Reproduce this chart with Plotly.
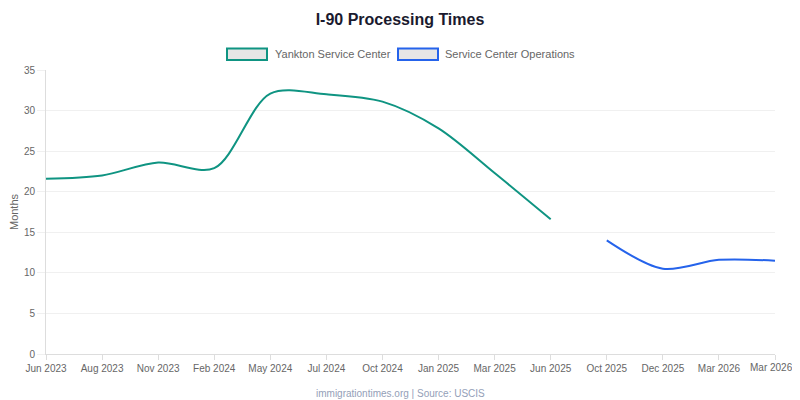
import plotly.graph_objects as go

labels = ["Jun 2023", "Aug 2023", "Nov 2023", "Feb 2024", "May 2024", "Jul 2024",
          "Oct 2024", "Jan 2025", "Mar 2025", "Jun 2025", "Oct 2025", "Dec 2025",
          "Mar 2026", "Mar 2026"]
yankton = [21.6, 22.0, 23.6, 22.9, 32.1, 32.0, 31.1, 27.8, 22.3, 16.6,
           None, None, None, None]
operations = [None, None, None, None, None, None, None, None, None, None,
              14.0, 10.5, 11.6, 11.5]

TEAL = "#0f9482"
BLUE = "#2563eb"

x = list(range(len(labels)))
# the last tick label sits at the very edge of the window: draw it as an
# annotation anchored so that it stays fully visible
tick_text = labels[:-1] + [""]

fig = go.Figure()
fig.add_trace(go.Scatter(x=x, y=yankton, mode="lines", name="Yankton Service Center",
                         line=dict(color=TEAL, width=2, shape="spline", smoothing=0.9),
                         connectgaps=False))
fig.add_trace(go.Scatter(x=x, y=operations, mode="lines", name="Service Center Operations",
                         line=dict(color=BLUE, width=2, shape="spline", smoothing=0.9),
                         connectgaps=False))

font = "Liberation Sans, Arial, sans-serif"

# page body has an 8px margin: figure starts at (8, 8) on screen
fig.update_layout(
    width=792, height=392,
    margin=dict(l=38, r=25, t=62, b=46),
    paper_bgcolor="white", plot_bgcolor="white",
    showlegend=False,
    font=dict(family=font, size=10, color="#666666"),
    title=dict(text="<b>I-90 Processing Times</b>", x=(400 - 8) / 792, xanchor="center",
               y=1 - (19 - 8) / 392, yanchor="middle", automargin=False,
               font=dict(family=font, size=16, color="#1a1a2e")),
    xaxis=dict(range=[0, 13], tickmode="array", tickvals=x, ticktext=tick_text,
               automargin=False, ticklabeloverflow="allow",
               showgrid=False, zeroline=False, showline=True, linecolor="#dddddd",
               ticks="outside", ticklen=5, tickcolor="#dddddd",
               tickfont=dict(size=10, color="#666666")),
    yaxis=dict(range=[0, 35], dtick=5, showgrid=True, gridcolor="#f0f0f0",
               automargin=False,
               zeroline=False, showline=True, linecolor="#dddddd",
               ticks="outside", ticklen=8, tickcolor="#f0f0f0",
               tickfont=dict(size=10, color="#666666"),
               title=dict(text="Months", standoff=10, font=dict(size=11, color="#666666"))),
)

# legend drawn in paper coordinates (plot area spans screen x 46..775, y 70..354)
shapes = []
annotations = []
legend_items = [("Yankton Service Center", TEAL, 227, 267, 273),
                ("Service Center Operations", BLUE, 398, 438, 443)]
for name, col, x0, x1, tx in legend_items:
    shapes.append(dict(type="rect", xref="paper", yref="paper",
                       x0=(x0 - 46) / 729, x1=(x1 - 46) / 729,
                       y0=(354 - 60) / 284, y1=(354 - 48.5) / 284,
                       line=dict(color=col, width=2), fillcolor="#e6e6e6"))
    annotations.append(dict(text=name, xref="paper", yref="paper",
                            x=(tx - 46) / 729, y=(354 - 54) / 284,
                            xanchor="left", yanchor="middle", showarrow=False,
                            font=dict(size=11, color="#666666", family=font)))

annotations.append(dict(text=labels[-1], xref="x", yref="paper",
                        x=x[-1], y=(354 - 367.5) / 284, xanchor="center", xshift=-4,
                        yanchor="middle", showarrow=False,
                        font=dict(size=10, color="#666666", family=font)))

annotations.append(dict(text="immigrationtimes.org | Source: USCIS", xref="paper", yref="paper",
                        x=(400 - 46) / 729, y=(354 - 393) / 284, xanchor="center",
                        yanchor="middle", showarrow=False,
                        font=dict(size=10, color="#94a0b8", family=font)))

fig.update_layout(shapes=shapes, annotations=annotations)

fig.write_html("out.html")
